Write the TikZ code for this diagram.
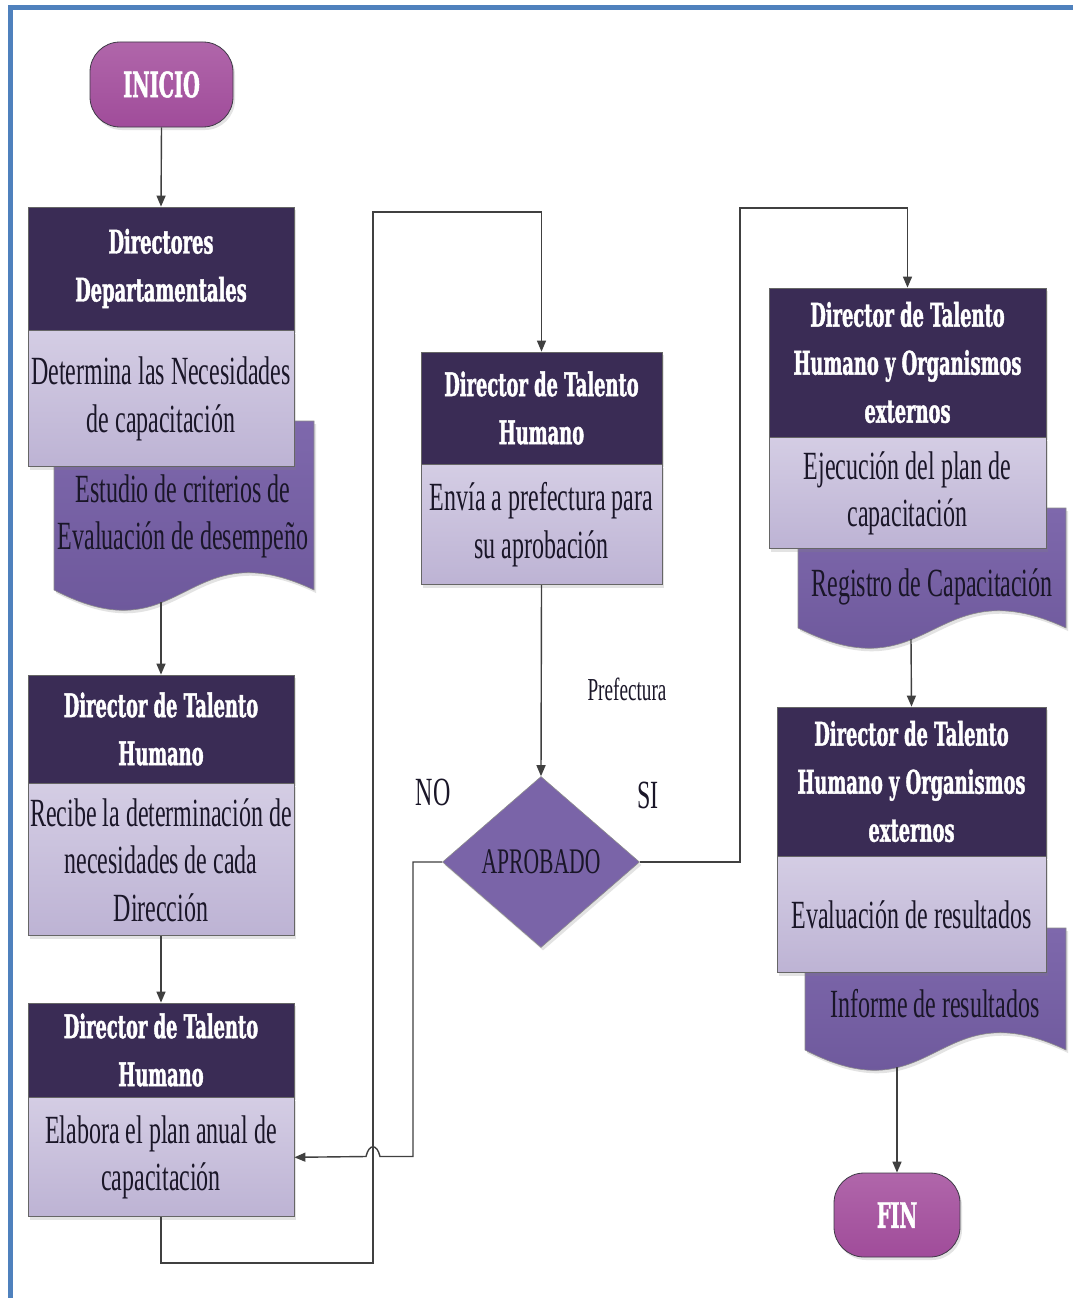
\documentclass[tikz,border=0pt]{standalone}
\usepackage{fontspec}
\setmainfont{Liberation Serif}
\newfontfamily\bodyfont[FakeStretch=0.6]{Liberation Serif}
\newfontfamily\headfont[FakeStretch=0.55,FakeBold=1.3]{DejaVu Serif}
\usetikzlibrary{shapes.geometric,arrows.meta,shadows,calc}

\definecolor{framecol}{HTML}{4F81BD}
\definecolor{hdrcol}{HTML}{3A2C55}
\definecolor{bodytop}{HTML}{D4CDE4}
\definecolor{bodybot}{HTML}{BDB3D4}
\definecolor{doctop}{HTML}{7E68AC}
\definecolor{docbot}{HTML}{6A5598}
\definecolor{termtop}{HTML}{B066AA}
\definecolor{termbot}{HTML}{A04C9A}
\definecolor{diacol}{HTML}{7A64A8}
\definecolor{linecol}{HTML}{404040}
\definecolor{inkcol}{HTML}{1A1628}

% wavy-bottomed document: #1 left x, #2 right x, #3 top y, #4 bottom base y
\newcommand\wavedoc[4]{%
  \path[docfill] (#1,#3) -- (#2,#3) -- (#2,#4)
    .. controls ({(#1+#2)/2},{#4-62}) and ({(#1+#2)/2},{#4+68}) .. (#1,#4) -- cycle;}

\tikzset{
  softshadow/.style={drop shadow={opacity=0.22, shadow xshift=2pt, shadow yshift=-3pt}},
  hdr/.style={draw=linecol!80, line width=0.8pt, fill=hdrcol, text=white,
    font=\headfont\bfseries\fontsize{32.5}{48}\selectfont, align=center,
    inner sep=0pt, softshadow},
  bodybox/.style={draw=linecol!80, line width=0.8pt, top color=bodytop,
    bottom color=bodybot, text=inkcol,
    font=\bodyfont\fontsize{40}{47.5}\selectfont, align=center, inner sep=0pt,
    softshadow},
  docfill/.style={draw=linecol!60, line width=0.6pt, top color=doctop,
    bottom color=docbot, softshadow},
  doctext/.style={text=inkcol, font=\bodyfont\fontsize{40}{47.5}\selectfont,
    align=center, inner sep=0pt},
  term/.style={draw=linecol!70!hdrcol, line width=0.8pt, rounded corners=30pt,
    top color=termtop, bottom color=termbot, text=white,
    font=\headfont\bfseries\fontsize{35}{40}\selectfont, inner sep=0pt,
    softshadow},
  decision/.style={diamond, aspect=1.15, draw=linecol!60, line width=0.6pt,
    fill=diacol, text=inkcol, font=\bodyfont\fontsize{36}{40}\selectfont,
    minimum width=197pt, minimum height=171pt, inner sep=0pt, softshadow},
  lbl/.style={text=inkcol, font=\bodyfont\fontsize{40}{47.5}\selectfont, inner sep=0pt},
  conn/.style={draw=linecol, line width=1.4pt},
  arr/.style={conn, -{Triangle[length=11pt,width=9pt]}}
}

\begin{document}
\begin{tikzpicture}[x=1pt,y=-1pt]
\useasboundingbox (0,0) rectangle (1073,1298);
\fill[white] (0,0) rectangle (1073,1298);

% outer frame
\draw[framecol, line width=5pt] (10.5,1320) -- (10.5,7.5) -- (1090,7.5);

% start
\node[term, minimum width=143pt, minimum height=85pt] (inicio) at (161.5,84.5) {INICIO};

% column 1
\wavedoc{54}{314}{421}{590}
\node[doctext] (d1) at (183,516.5) {Estudio de criterios de\\Evaluación de desempeño};
\coordinate (d1b) at (161,602);

\node[hdr, minimum width=266pt, minimum height=123pt] (h1) at (161,268.5) {Directores\\Departamentales};
\node[bodybox, minimum width=266pt, minimum height=136pt, anchor=north] (b1) at (h1.south) {Determina las Necesidades\\de capacitación};

\node[hdr, minimum width=266pt, minimum height=108pt] (h2) at (161,729) {Director de Talento\\Humano};
\node[bodybox, minimum width=266pt, minimum height=152pt, anchor=north] (b2) at (h2.south) {Recibe la determinación de\\necesidades de cada\\Dirección};

\node[hdr, minimum width=266pt, minimum height=94pt] (h3) at (161,1050) {Director de Talento\\Humano};
\node[bodybox, minimum width=266pt, minimum height=119pt, anchor=north] (b3) at (h3.south) {Elabora el plan anual de\\capacitación};

% column 2
\node[hdr, minimum width=241pt, minimum height=112pt] (h4) at (541.5,408) {Director de Talento\\Humano};
\node[bodybox, minimum width=241pt, minimum height=120pt, anchor=north] (b4) at (h4.south) {Envía a prefectura para\\su aprobación};

\node[decision] (dec) at (541,862) {APROBADO};

% column 3
\wavedoc{798}{1066}{508}{628}
\node[doctext] (d2) at (932,587) {Registro de Capacitación};
\coordinate (d2b) at (911,639);

\node[hdr, minimum width=277pt, minimum height=149pt] (h5) at (907.5,362.5) {Director de Talento\\Humano y Organismos\\externos};
\node[bodybox, minimum width=277pt, minimum height=111pt, anchor=north] (b5) at (h5.south) {Ejecución del plan de\\capacitación};

\wavedoc{805}{1066}{928}{1050}
\node[doctext] (d3) at (935,1004) {Informe de resultados};
\coordinate (d3b) at (897,1067);

\node[hdr, minimum width=269pt, minimum height=149pt] (h6) at (911.5,781.5) {Director de Talento\\Humano y Organismos\\externos};
\node[bodybox, minimum width=269pt, minimum height=116pt, anchor=north] (b6) at (h6.south) {Evaluación de resultados};

\node[term, minimum width=126pt, minimum height=84pt] (fin) at (897,1215) {FIN};

% routing points
\coordinate (r1) at (373,1263);
\coordinate (r2) at (373,212);
\coordinate (no1) at (413,862);
\coordinate (no2) at (413,1156.5);
\coordinate (hopR) at (380,1156.5);
\coordinate (hopL) at (366,1156.5);
\coordinate (si1) at (740,208);

% connectors
\draw[arr] (inicio.south) -- (h1.north);
\draw[arr] (d1b) -- (h2.north);
\draw[arr] (b2.south) -- (h3.north);
\draw[arr] (b3.south) |- (r1) -- (r2) -| (h4.north);
\draw[arr] (b4.south) -- (dec.north);
\draw[arr] (dec.west) -- (no1) -- (no2) -- (hopR)
  .. controls ($(hopR)+(-3,-13)$) and ($(hopL)+(3,-13)$) .. (hopL) -- (b3.east);
\draw[arr] (dec.east) -| (si1) -| (h5.north);
\draw[arr] (d2b) -- (h6.north);
\draw[arr] (d3b) -- (fin.north);

% labels
\node[lbl, font=\bodyfont\fontsize{32}{36}\selectfont] (pref) at (627,689) {Prefectura};
\node[lbl] (nolbl) at (433,792) {NO};
\node[lbl] (silbl) at (648,795) {SI};
\end{tikzpicture}
\end{document}
